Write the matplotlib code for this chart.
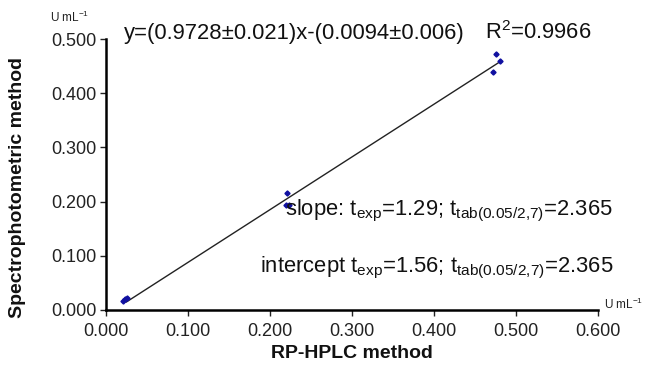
import matplotlib
matplotlib.use("Agg")
import matplotlib.pyplot as plt
import numpy as np

plt.rcParams['font.family'] = ['Liberation Sans', 'DejaVu Sans']
plt.rcParams['mathtext.fontset'] = 'custom'
plt.rcParams['mathtext.rm'] = 'Liberation Sans'
plt.rcParams['mathtext.default'] = 'regular'

# Data
hplc = [0.021, 0.023, 0.026, 0.2195, 0.2207, 0.223, 0.4716, 0.475, 0.480]
spectro = [0.017, 0.020, 0.022, 0.194, 0.215, 0.194, 0.439, 0.473, 0.459]
slope = 0.9728
intercept = -0.0094
xticks = [0.0, 0.1, 0.2, 0.3, 0.4, 0.5, 0.6]
yticks = [0.0, 0.1, 0.2, 0.3, 0.4, 0.5]

W, H = 646, 365
fig = plt.figure(figsize=(W/100, H/100), dpi=100)
ax = fig.add_axes([106/W, 1-310/H, (598-106)/W, (310-39)/H])

xl = np.array([0.025, 0.48])
ax.plot(xl, slope*xl + intercept, color='#222222', lw=1.0, zorder=2)
ax.plot(hplc, spectro, linestyle='none', marker='D', ms=2.6, color='#1010a0', zorder=3)

ax.set_xlim(0, 0.6)
ax.set_ylim(0, 0.5)
ax.set_xticks(xticks)
ax.set_yticks(yticks)
ax.set_xticklabels([f"{v:.3f}" for v in xticks])
ax.set_yticklabels([f"{v:.3f}" for v in yticks])
for s in ['top', 'right']:
    ax.spines[s].set_visible(False)
for s in ['left', 'bottom']:
    ax.spines[s].set_linewidth(1.8)
    ax.spines[s].set_color('black')
ax.tick_params(axis='both', direction='out', length=4, width=1.0, labelsize=13, colors='#222222', pad=3)
ax.tick_params(axis='x', pad=5)

def px(x, y):
    return x/W, 1-y/H

fig.text(*px(18, 187), 'Spectrophotometric method', rotation=90, ha='center', va='center',
         fontsize=14, fontweight='bold', color='#111111')
fig.text(*px(352, 354), 'RP-HPLC method', ha='center', va='center',
         fontsize=14, fontweight='bold', color='#111111')

fig.text(*px(50, 22), 'U mL$^{-1}$', ha='left', va='baseline', fontsize=8.5, color='#222222')
fig.text(*px(604, 309), 'U mL$^{-1}$', ha='left', va='baseline', fontsize=8.5, color='#222222')

fig.text(*px(124, 39), 'y=(0.9728±0.021)x-(0.0094±0.006)', ha='left', va='baseline',
         fontsize=15.8, color='#111111')
fig.text(*px(485, 39), 'R$^{2}$=0.9966', ha='left', va='baseline', fontsize=15.8, color='#111111')
fig.text(*px(613, 215), 'slope: $t_{exp}$=1.29; $t_{tab(0.05/2{,}7)}$=2.365', ha='right', va='baseline',
         fontsize=15.8, color='#111111')
fig.text(*px(613, 272), 'intercept $t_{exp}$=1.56; $t_{tab(0.05/2{,}7)}$=2.365', ha='right', va='baseline',
         fontsize=15.8, color='#111111')

fig.savefig('out.png', dpi=100)
